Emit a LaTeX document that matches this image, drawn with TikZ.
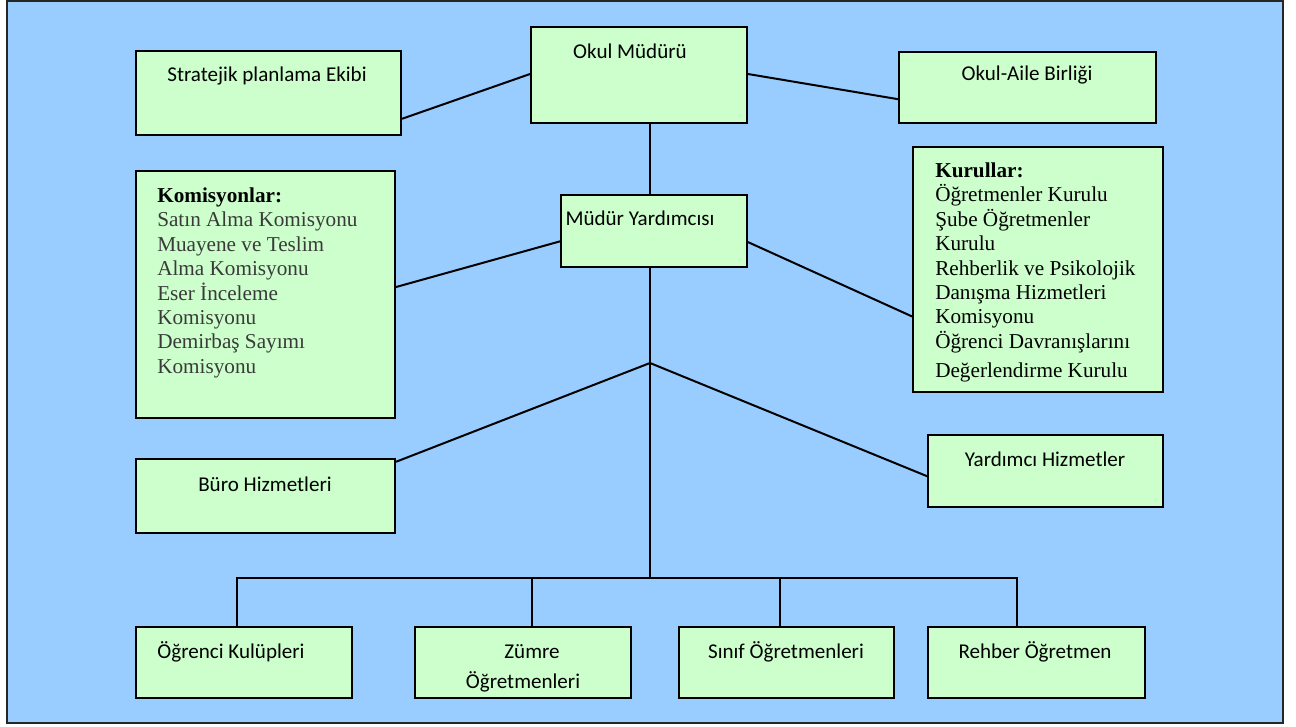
\documentclass[tikz,border=0pt]{standalone}
\usepackage{fontspec}
\setmainfont{Liberation Serif}
\setsansfont{Carlito}
\usetikzlibrary{calc,fit}
\definecolor{bgblue}{HTML}{99CCFF}
\definecolor{boxgreen}{HTML}{CCFFCC}
\definecolor{komgray}{HTML}{3A3A3A}
\begin{document}
\begin{tikzpicture}[x=0.75pt,y=-0.75pt,
  box/.style={draw=black,fill=boxgreen,line width=1.5pt,inner sep=0pt},
  stxt/.style={font=\sffamily\fontsize{15.8}{19}\selectfont,inner sep=0pt,anchor=base},
  rtxt/.style={font=\fontsize{15.9}{18.3}\selectfont,inner sep=0pt,anchor=north west,align=left},
  conn/.style={line width=1.5pt,black}]
\useasboundingbox (0,0) rectangle (1296,727);
\fill[bgblue] (7,1) rectangle (1283,723);
\draw[line width=2.2pt,black!85] (7,1) rectangle (1283,723);

% boxes
\node[box,fit={(531,27) (747,123)}] (om) {};
\node[box,fit={(136,51) (401,135)}] (sp) {};
\node[box,fit={(899,52) (1156,123)}] (oa) {};
\node[box,fit={(136,171) (395,418)}] (kom) {};
\node[box,fit={(561,195) (747,267)}] (my) {};
\node[box,fit={(913,147) (1163,392)}] (kur) {};
\node[box,fit={(136,459) (395,533)}] (bh) {};
\node[box,fit={(928,435) (1163,507)}] (yh) {};
\node[box,fit={(136,627) (352,698)}] (ok) {};
\node[box,fit={(415,627) (631,698)}] (zo) {};
\node[box,fit={(679,627) (894,698)}] (so) {};
\node[box,fit={(928,627) (1145,698)}] (ro) {};

% texts
\node[stxt] (omt) at (630,59) {Okul Müdürü};
\node[stxt] (spt) at (267,82) {Stratejik planlama Ekibi};
\node[stxt] (oat) at (1027,81) {Okul-Aile Birliği};
\node[stxt] (myt) at (640,226) {Müdür Yardımcısı};
\node[stxt] (bht) at (265,491) {Büro Hizmetleri};
\node[stxt] (yht) at (1045,466) {Yardımcı Hizmetler};
\node[stxt] (okt) at (231,658) {Öğrenci Kulüpleri};
\node[stxt] (sot) at (786,658) {Sınıf Öğretmenleri};
\node[stxt] (rot) at (1035,658) {Rehber Öğretmen};
\begin{scope}
\clip (zo.north west) rectangle (zo.south east);
\node[stxt] (zot1) at (532,658) {Zümre};
\node[stxt] (zot2) at (523,688) {Öğretmenleri};
\end{scope}

\node[rtxt] (komt) at (157,187.5) {\textbf{\textcolor{black}{Komisyonlar:}}\\
\textcolor{komgray}{Satın Alma Komisyonu}\\
\textcolor{komgray}{Muayene ve Teslim}\\
\textcolor{komgray}{Alma Komisyonu}\\
\textcolor{komgray}{Eser İnceleme}\\
\textcolor{komgray}{Komisyonu}\\
\textcolor{komgray}{Demirbaş Sayımı}\\
\textcolor{komgray}{Komisyonu}};

\node[rtxt] (kurt) at (935,162.5) {\textbf{Kurullar:}\\
Öğretmenler Kurulu\\
Şube Öğretmenler\\
Kurulu\\
Rehberlik ve Psikolojik\\
Danışma Hizmetleri\\
Komisyonu\\
Öğrenci Davranışlarını\\[3.5pt]
Değerlendirme Kurulu};

% connectors
\coordinate (j1) at (650,363);
\coordinate (bus) at (650,578);
\draw[conn] ($(sp.north east)!0.8!(sp.south east)$) -- ($(om.north west)!0.49!(om.south west)$);
\draw[conn] ($(om.north east)!0.49!(om.south east)$) -- ($(oa.north west)!0.66!(oa.south west)$);
\draw[conn] (om.south -| bus) -- (my.north -| bus);
\draw[conn] ($(kom.north east)!0.47!(kom.south east)$) -- ($(my.north west)!0.64!(my.south west)$);
\draw[conn] ($(my.north east)!0.65!(my.south east)$) -- ($(kur.north west)!0.69!(kur.south west)$);
\draw[conn] (my.south -| bus) -- (bus);
\draw[conn] (j1) -- ($(bh.north east)!0.05!(bh.south east)$);
\draw[conn] (j1) -- ($(yh.north west)!0.57!(yh.south west)$);
\coordinate (d1) at ($(ok.north west)!0.47!(ok.north east)$);
\coordinate (d2) at ($(zo.north west)!0.54!(zo.north east)$);
\coordinate (d3) at ($(so.north west)!0.47!(so.north east)$);
\coordinate (d4) at ($(ro.north west)!0.41!(ro.north east)$);
\draw[conn] (d1) -- (d1 |- bus) -- (d4 |- bus) -- (d4);
\draw[conn] (d2 |- bus) -- (d2);
\draw[conn] (d3 |- bus) -- (d3);
\end{tikzpicture}
\end{document}
